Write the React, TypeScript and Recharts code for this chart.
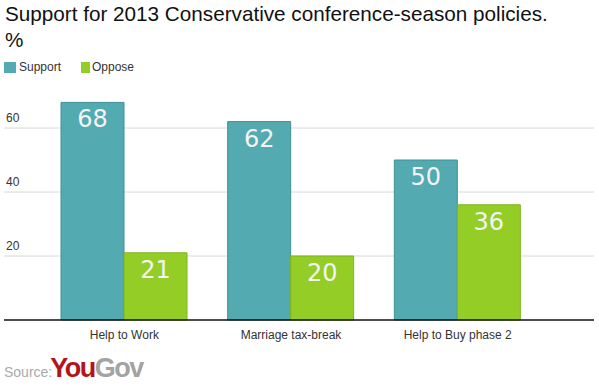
import React from "react";
import { BarChart, Bar, XAxis, YAxis, CartesianGrid, LabelList } from "recharts";

const categories = ["Help to Work", "Marriage tax-break", "Help to Buy phase 2"];
const supportValues = [68, 62, 50];
const opposeValues = [21, 20, 36];
const yTicks = [20, 40, 60];

const data = categories.map((name, i) => ({
  name,
  support: supportValues[i],
  oppose: opposeValues[i],
}));

const SUPPORT = "#53aab0";
const SUPPORT_STROKE = "#3f9197";
const OPPOSE = "#95cd27";
const OPPOSE_STROKE = "#7fb31c";

const renderYTick = (props: any) => {
  const { y, payload } = props;
  return (
    <text x={6} y={y - 6} fontSize={12} fill="#333" fontFamily="Liberation Sans, Arial, sans-serif">
      {payload.value}
    </text>
  );
};

export default function App() {
  return (
    <div style={{ position: "absolute", left: 0, top: 0, width: 599, height: 387, background: "#fff", fontFamily: "Liberation Sans, Arial, sans-serif" }}>
      <BarChart
        width={599}
        height={387}
        data={data}
        margin={{ top: 64, right: 5, bottom: 37, left: 3 }}
        barGap={0}
        barSize={63}
      >
        <CartesianGrid horizontal vertical={false} stroke="#d8d8d8" horizontalValues={yTicks} />
        <YAxis
          domain={[0, 80]}
          ticks={yTicks}
          width={1}
          axisLine={false}
          tickLine={false}
          tick={renderYTick}
          interval={0}
        />
        <XAxis
          dataKey="name"
          padding={{ left: 37, right: 53 }}
          height={30}
          axisLine={{ stroke: "#111", strokeWidth: 1.5 }}
          tickLine={false}
          tick={{ fontSize: 12, fill: "#333", fontFamily: "Liberation Sans, Arial, sans-serif" }}
          tickMargin={4}
          interval={0}
        />
        <Bar dataKey="support" fill={SUPPORT} stroke={SUPPORT_STROKE} strokeWidth={1} isAnimationActive={false}>
          <LabelList dataKey="support" position="insideTop" offset={8} fill="#f4f4f4" fontSize={24} fontFamily="DejaVu Sans, Verdana, sans-serif" />
        </Bar>
        <Bar dataKey="oppose" fill={OPPOSE} stroke={OPPOSE_STROKE} strokeWidth={1} isAnimationActive={false}>
          <LabelList dataKey="oppose" position="insideTop" offset={8} fill="#f4f4f4" fontSize={24} fontFamily="DejaVu Sans, Verdana, sans-serif" />
        </Bar>
      </BarChart>

      <div style={{ position: "absolute", left: 5, top: 1, fontSize: 20.7, lineHeight: "26px", color: "#111", whiteSpace: "nowrap" }}>
        Support for 2013 Conservative conference-season policies.
        <br />%
      </div>

      <div style={{ position: "absolute", left: 4, top: 62, width: 12, height: 11, background: SUPPORT }} />
      <div style={{ position: "absolute", left: 19, top: 60, fontSize: 12, color: "#333", lineHeight: "14px" }}>Support</div>
      <div style={{ position: "absolute", left: 81, top: 62, width: 9, height: 11, background: OPPOSE }} />
      <div style={{ position: "absolute", left: 92, top: 60, fontSize: 12, color: "#333", lineHeight: "14px" }}>Oppose</div>

      <div style={{ position: "absolute", left: 4, top: 353, whiteSpace: "nowrap", display: "flex", alignItems: "baseline" }}>
        <span style={{ fontSize: 14, color: "#aaa" }}>Source:</span>
        <span style={{ fontSize: 27, fontWeight: "bold", color: "#b3141c", letterSpacing: -1.5, marginLeft: -2 }}>You</span>
        <span style={{ fontSize: 27, fontWeight: "bold", color: "#a3a3a3", letterSpacing: -1.5 }}>Gov</span>
      </div>
    </div>
  );
}
